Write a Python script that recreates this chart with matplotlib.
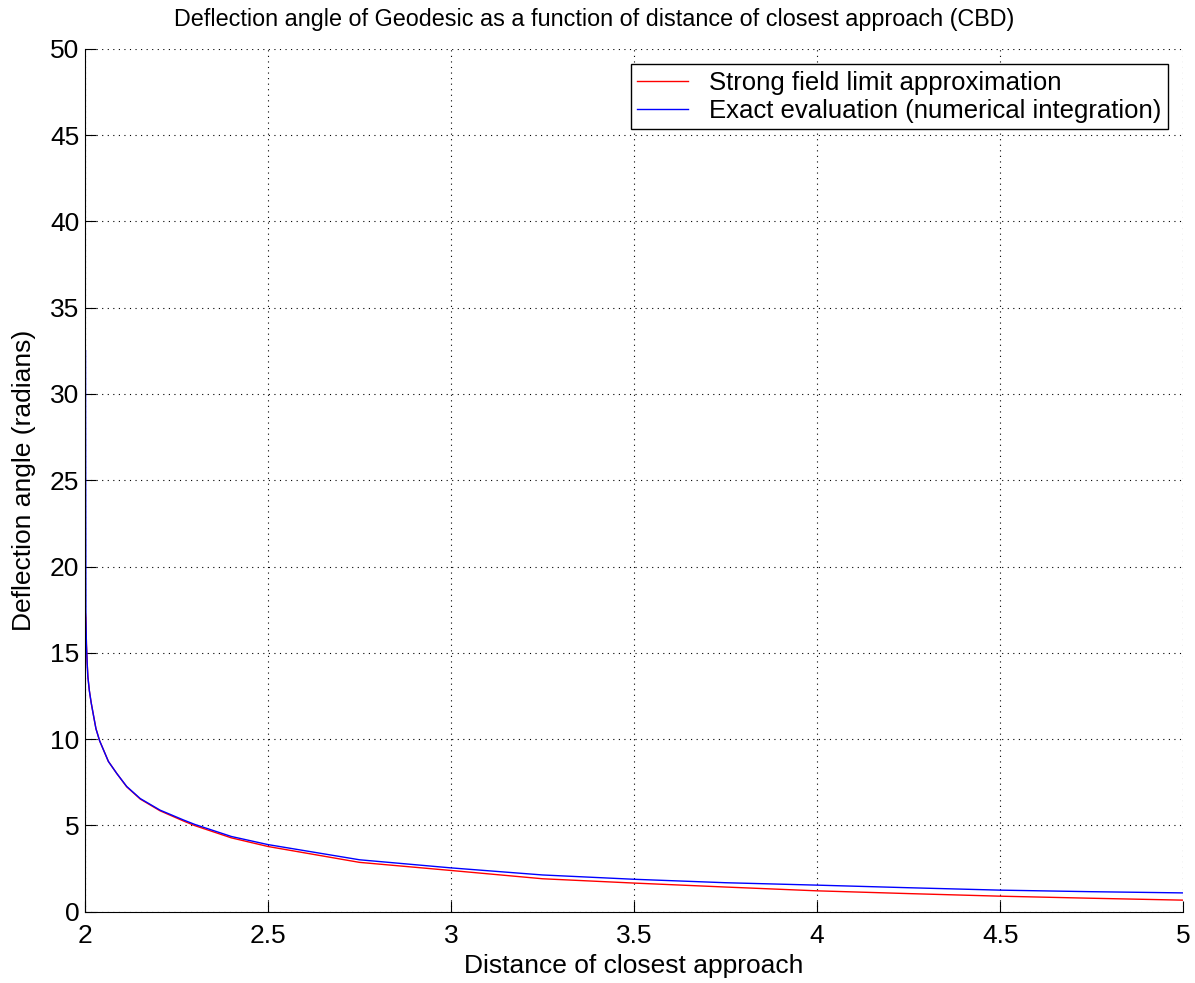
import matplotlib
matplotlib.use("Agg")
import matplotlib.pyplot as plt

plt.rcParams['font.family'] = ['Liberation Sans', 'DejaVu Sans']

# values
x_exact = [2.0015, 2.0025, 2.004, 2.006, 2.008, 2.012, 2.017, 2.023, 2.030, 2.040,
           2.064, 2.087, 2.114, 2.151, 2.205, 2.27, 2.30, 2.40, 2.5, 2.75,
           3.0, 3.25, 3.5, 3.75, 4.0, 4.25, 4.5, 4.75, 5.0]
y_exact = [32.5, 17.0, 15.5, 14.4, 13.6, 12.8, 12.1, 11.4, 10.6, 9.9,
           8.7, 8.0, 7.25, 6.55, 5.88, 5.3, 5.05, 4.35, 3.88, 3.0,
           2.53, 2.12, 1.87, 1.67, 1.53, 1.38, 1.24, 1.15, 1.08]

x_strong = [2.0015, 2.0025, 2.004, 2.006, 2.008, 2.012, 2.017, 2.023, 2.030, 2.040,
            2.064, 2.087, 2.114, 2.151, 2.205, 2.27, 2.30, 2.40, 2.5, 2.75,
            3.0, 3.25, 3.5, 3.75, 4.0, 4.25, 4.5, 4.75, 5.0]
y_strong = [17.25, 17.0, 15.5, 14.4, 13.6, 12.8, 12.1, 11.4, 10.6, 9.9,
            8.7, 8.0, 7.23, 6.52, 5.84, 5.24, 4.98, 4.27, 3.77, 2.85,
            2.38, 1.9, 1.65, 1.42, 1.2, 1.04, 0.89, 0.77, 0.66]

x_ticks = [2, 2.5, 3, 3.5, 4, 4.5, 5]
y_ticks = [0, 5, 10, 15, 20, 25, 30, 35, 40, 45, 50]

fig = plt.figure(figsize=(11.95, 9.83), dpi=100)
ax = fig.add_axes([0.0711, 0.0727, 0.919, 0.8775])

ax.plot(x_strong, y_strong, color="red", lw=1, label="Strong field limit approximation")
ax.plot(x_exact, y_exact, color="blue", lw=1, label="Exact evaluation (numerical integration)")

ax.set_xlim(2, 5)
ax.set_ylim(0, 50)
ax.set_xticks(x_ticks)
ax.set_xticklabels(["2", "2.5", "3", "3.5", "4", "4.5", "5"])
ax.set_yticks(y_ticks)
ax.grid(True, color="black", linestyle=(0, (1, 4)), linewidth=0.8)
ax.tick_params(direction="in", length=8, labelsize=19)
ax.tick_params(axis="x", pad=9)
ax.tick_params(axis="y", pad=4)
ax.spines["top"].set_visible(False)
ax.spines["right"].set_visible(False)

fig.suptitle("Deflection angle of Geodesic as a function of distance of closest approach (CBD)",
             fontsize=16.8, x=0.497, y=0.992, va="top")
ax.set_xlabel("Distance of closest approach", fontsize=19, labelpad=4)
ax.set_ylabel("Deflection angle (radians)", fontsize=19, labelpad=10)

leg = ax.legend(loc="upper right", fontsize=18.5, fancybox=False, framealpha=1,
                edgecolor="black", handlelength=2.0, borderaxespad=0.6,
                labelspacing=0.15, borderpad=0.25, handletextpad=0.8)
leg.get_frame().set_linewidth(1)

fig.savefig("out.png", dpi=100)
